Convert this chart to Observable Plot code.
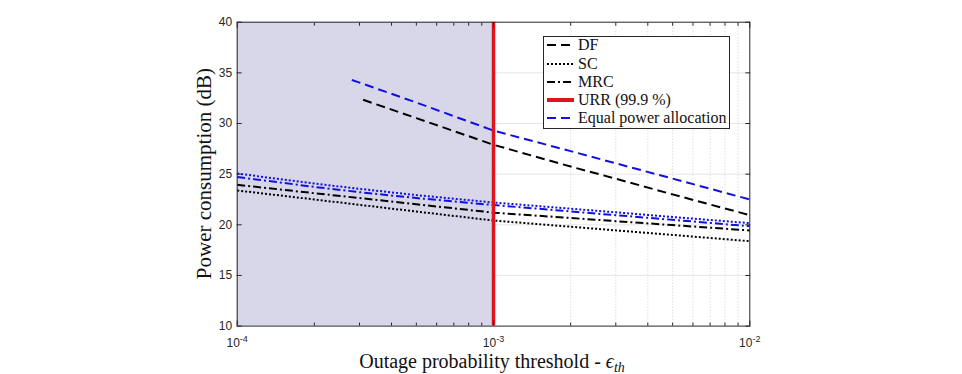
<!DOCTYPE html>
<html>
<head>
<meta charset="utf-8">
<script src="https://cdn.jsdelivr.net/npm/d3@7"></script>
<script src="https://cdn.jsdelivr.net/npm/@observablehq/plot@0.6"></script>
<style>
  body { margin: 0; background: #fff; }
  #wrap { position: relative; width: 962px; height: 374px; }
  .legend {
    position: absolute; left: 543px; top: 36px; width: 185px; height: 91px;
    border: 1px solid #262626; background: #fff;
    font-family: "Liberation Serif", "Times New Roman", serif; font-size: 16px; color: #111;
  }
  .legend .row { position: absolute; left: 0; height: 18px; line-height: 18px; white-space: nowrap; }
  .legend svg { position: absolute; left: 3px; top: 0; }
  .legend span { position: absolute; left: 34px; top: 0; }
</style>
</head>
<body>
<div id="wrap"></div>
<script>
// Outage probability threshold values (log axis)
const epsGrid = [1e-4, 2e-4, 3e-4, 5e-4, 1e-3, 2e-3, 3e-3, 5e-3, 1e-2];
const epsDF = [3.1e-4, 5e-4, 1e-3, 2e-3, 3e-3, 5e-3, 1e-2];
const epsDFEqual = [2.8e-4, 5e-4, 1e-3, 2e-3, 3e-3, 5e-3, 1e-2];

// Power consumption (dB)
const powerDF = [32.34, 30.53, 27.9, 25.75, 24.55, 23.0, 20.95];
const powerDFEqual = [34.3, 32.07, 29.3, 27.27, 26.07, 24.56, 22.5];
const powerSC = [23.39, 22.5, 21.97, 21.31, 20.42, 19.81, 19.45, 19.0, 18.38];
const powerSCEqual = [25.06, 24.07, 23.55, 22.93, 22.2, 21.59, 21.23, 20.77, 20.16];
const powerMRC = [23.95, 23.12, 22.64, 22.03, 21.2, 20.67, 20.36, 19.97, 19.44];
const powerMRCEqual = [24.72, 23.74, 23.22, 22.64, 21.95, 21.32, 20.95, 20.49, 19.86];

// URR target and the region it excludes
const urrEps = [1e-3];
const shadedRange = [1e-4, 1e-3];

// Axis ticks
const xMajor = [1e-4, 1e-3, 1e-2];
const xMinor = [2e-4, 3e-4, 4e-4, 5e-4, 6e-4, 7e-4, 8e-4, 9e-4, 2e-3, 3e-3, 4e-3, 5e-3, 6e-3, 7e-3, 8e-3, 9e-3];
const yTicks = [10, 15, 20, 25, 30, 35, 40];

const legendNames = ["DF", "SC", "MRC", "URR (99.9 %)", "Equal power allocation"];

const BLACK = "#000";
const BLUE = "#1010e0";
const RED = "#e0141c";
const DASH = "9,5";
const DOT = "2,2";
const DASHDOT = "8,3,2,3";

const series = [
  {eps: epsDF, power: powerDF, stroke: BLACK, dash: DASH},
  {eps: epsGrid, power: powerSC, stroke: BLACK, dash: DOT},
  {eps: epsGrid, power: powerMRC, stroke: BLACK, dash: DASHDOT},
  {eps: epsDFEqual, power: powerDFEqual, stroke: BLUE, dash: DASH},
  {eps: epsGrid, power: powerSCEqual, stroke: BLUE, dash: DOT},
  {eps: epsGrid, power: powerMRCEqual, stroke: BLUE, dash: DASHDOT}
];

const curveMarks = series.map(s =>
  Plot.line(s.eps.map((e, i) => ({eps: e, power: s.power[i]})), {
    x: "eps", y: "power", stroke: s.stroke, strokeWidth: 2,
    strokeDasharray: s.dash, strokeLinecap: "butt"
  })
);

const chart = Plot.plot({
  width: 962,
  height: 374,
  marginLeft: 236.7,
  marginRight: 212.7,
  marginTop: 21.7,
  marginBottom: 48.4,
  x: {type: "log", domain: [xMajor[0], xMajor[xMajor.length - 1]]},
  y: {domain: [yTicks[0], yTicks[yTicks.length - 1]]},
  style: {fontFamily: '"Liberation Sans", Arial, sans-serif', fontSize: "12px", color: "#262626", background: "#fff", overflow: "visible"},
  marks: [
    // grid
    Plot.ruleY(yTicks.slice(1, -1), {stroke: "#e6e6e6", strokeWidth: 1}),
    Plot.ruleX(xMinor, {stroke: "#cfcfcf", strokeWidth: 1, strokeDasharray: "1,2"}),
    // region below the URR threshold
    Plot.rect([{from: shadedRange[0], to: shadedRange[1]}], {x1: "from", x2: "to", fill: "#d8d7ea"}),
    ...curveMarks,
    Plot.ruleX(urrEps, {stroke: RED, strokeWidth: 3.5}),
    Plot.frame({stroke: "#262626", strokeWidth: 1}),
    // axes with inward ticks on all four sides
    Plot.axisX({ticks: xMajor, tickSize: -5, tickPadding: 17, label: null,
      tickFormat: d => "10|" + Math.round(Math.log10(d))}),
    Plot.axisX({ticks: xMinor, tickSize: -3, fill: "none", label: null}),
    Plot.axisX({anchor: "top", ticks: xMajor, tickSize: -5, fill: "none", label: null}),
    Plot.axisX({anchor: "top", ticks: xMinor, tickSize: -3, fill: "none", label: null}),
    Plot.axisY({ticks: yTicks, tickSize: -5, tickPadding: 10, label: null}),
    Plot.axisY({anchor: "right", ticks: yTicks, tickSize: -5, fill: "none", label: null})
  ]
});

const svg = d3.select(chart);

// superscript exponents on the log tick labels
svg.selectAll('g[aria-label="x-axis tick label"] text').each(function () {
  const t = d3.select(this);
  const [base, exp] = t.text().split("|");
  t.text(null);
  t.append("tspan").attr("font-size", "12px").text(base);
  t.append("tspan").attr("dy", "-5").attr("font-size", "9px").text(exp);
});

// axis titles
const serif = '"Liberation Serif", "Times New Roman", serif';
svg.append("text")
  .attr("x", 492).attr("y", 368)
  .attr("text-anchor", "middle")
  .attr("font-family", serif).attr("font-size", "20px").attr("fill", "#111")
  .call(t => {
    t.append("tspan").text("Outage probability threshold - ");
    t.append("tspan").attr("font-style", "italic").text("\u03F5");
    t.append("tspan").attr("font-style", "italic").attr("font-size", "14px").attr("dy", "4").text("th");
  });
svg.append("text")
  .attr("transform", "translate(211,173.6) rotate(-90)")
  .attr("text-anchor", "middle")
  .attr("font-family", serif).attr("font-size", "21px").attr("fill", "#111")
  .text("Power consumption (dB)");

const wrap = document.getElementById("wrap");
wrap.appendChild(chart);

// legend box inside the axes
const legendStyles = [
  {stroke: BLACK, dash: DASH, width: 2},
  {stroke: BLACK, dash: DOT, width: 2},
  {stroke: BLACK, dash: DASHDOT, width: 2},
  {stroke: RED, dash: null, width: 4},
  {stroke: BLUE, dash: DASH, width: 2}
];
const legend = document.createElement("div");
legend.className = "legend";
legendNames.forEach((name, i) => {
  const row = document.createElement("div");
  row.className = "row";
  row.style.top = (-0.7 + i * 18.25) + "px";
  const st = legendStyles[i];
  row.innerHTML =
    `<svg width="28" height="18"><line x1="0" y1="9" x2="27" y2="9" stroke="${st.stroke}" stroke-width="${st.width}"` +
    (st.dash ? ` stroke-dasharray="${st.dash}"` : "") + `/></svg><span>${name}</span>`;
  legend.appendChild(row);
});
wrap.appendChild(legend);
</script>
</body>
</html>
